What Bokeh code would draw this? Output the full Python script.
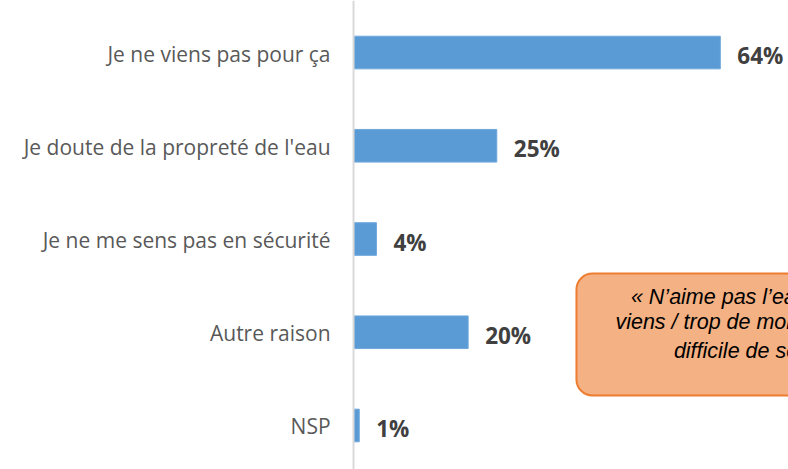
from bokeh.plotting import figure
from bokeh.models import ColumnDataSource, Range1d, Span
from bokeh.core.properties import value
from bokeh.embed import file_html
from bokeh.resources import INLINE

categories = ["Je ne viens pas pour ça", "Je doute de la propreté de l'eau",
              "Je ne me sens pas en sécurité", "Autre raison", "NSP"]
values = [64, 25, 4, 20, 1]
value_labels = ["64%", "25%", "4%", "20%", "1%"]
callout_lines = ["« N’aime pas l’eau froide / je ne sais pas nager »",
                 "viens / trop de monde / pas le temps /",
                 "difficile  de se garer »"]

n = len(categories)
ypos = [n - 1 - i for i in range(n)]
src = ColumnDataSource(dict(y=ypos, v=values, cat=categories, lab=value_labels,
                            zero=[0] * n))

p = figure(width=788, height=469, output_backend="svg", toolbar_location=None,
           x_range=Range1d(-61.6, 75.9), y_range=Range1d(-0.472, 4.558),
           min_border=0, min_border_left=0, min_border_right=0,
           min_border_top=0, min_border_bottom=0)
p.axis.visible = False
p.grid.visible = False
p.outline_line_color = None
p.background_fill_color = "white"
p.border_fill_color = "white"

p.hbar(y="y", left=0, right="v", height=0.35, source=src,
       fill_color="#5B9BD5", line_color="#6FA8DC", line_width=1)

p.add_layout(Span(location=0, dimension="height", line_color="#D9D9D9", line_width=2))

p.text(x="zero", y="y", text="cat", source=src, x_offset=-23, y_offset=1,
       text_align="right", text_baseline="middle", text_color="#595959",
       text_font=value("Open Sans"), text_font_size="21px")

p.text(x="v", y="y", text="lab", source=src, x_offset=17, y_offset=3,
       text_align="left", text_baseline="middle", text_color="#404040",
       text_font=value("Open Sans"), text_font_size="22.5px", text_font_style="bold")

# callout box
p.quad(left=[38.9], right=[95], top=[1.630], bottom=[0.322],
       fill_color="#F4B183", line_color="#ED7D31", line_width=2,
       border_radius=16)

line_x = [48.4, 45.7, 55.9]
line_y = [1.373, 1.105, 0.80]
p.text(x=line_x, y=line_y, text=callout_lines, text_align="left",
       text_baseline="middle", text_color="black",
       text_font=value("Liberation Sans"), text_font_size="21.5px",
       text_font_style="italic")

open("out.html", "w").write(file_html(p, INLINE))
